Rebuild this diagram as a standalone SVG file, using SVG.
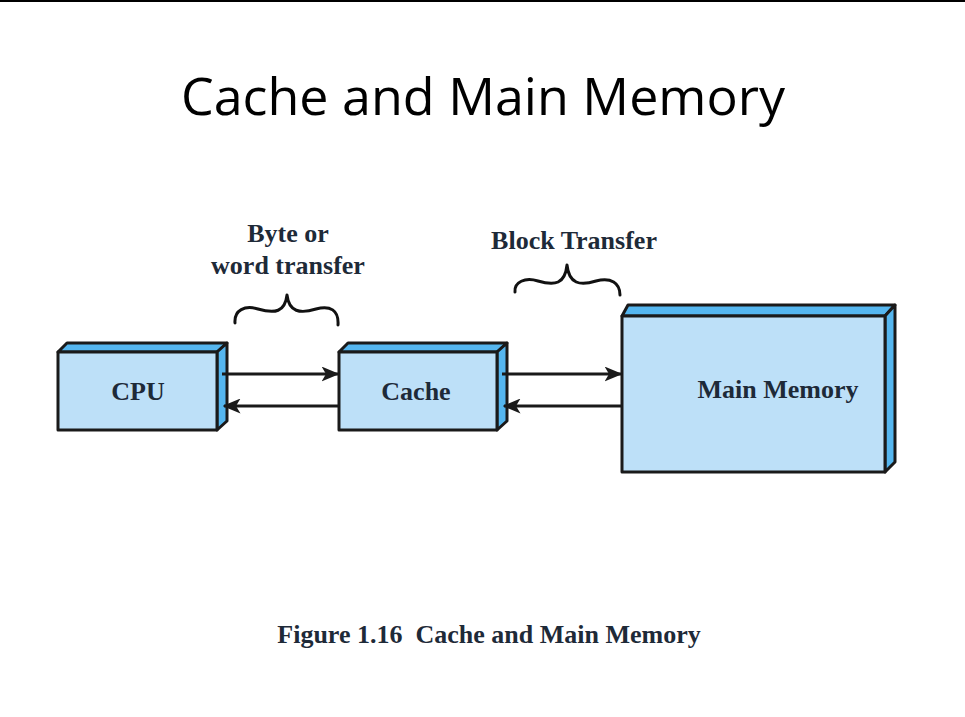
<svg xmlns="http://www.w3.org/2000/svg" width="965" height="717" viewBox="0 0 965 717">
<defs>
<style>
.front{fill:#bde0f8;stroke:#1a1a1a;stroke-width:3;stroke-linejoin:round}
.face{fill:#55b6ef;stroke:#1a1a1a;stroke-width:3;stroke-linejoin:round}
.lbl{font-family:"Liberation Serif","Times New Roman",serif;font-weight:bold;fill:#1e2a38;text-anchor:middle}
.conn{stroke:#1a1a1a;stroke-width:3;fill:none}
.brace{stroke:#111;stroke-width:3;fill:none;stroke-linecap:round;stroke-linejoin:round}
</style>
<marker id="ah" viewBox="0 0 12 10" refX="11" refY="5" markerWidth="6" markerHeight="5" markerUnits="strokeWidth" orient="auto">
<path d="M0,0 L12,5 L0,10 L3,5 Z" fill="#1a1a1a"/>
</marker>
</defs>
<rect x="0" y="0" width="965" height="717" fill="#ffffff"/>
<rect x="0" y="0" width="965" height="2" fill="#000"/>
<text x="483" y="115" font-family="Open Sans, Liberation Sans, sans-serif" font-size="52" fill="#000" text-anchor="middle">Cache and Main Memory</text>

<g id="cpu">
<path class="face" d="M58,352 L67,343 L227,343 L217,352 Z"/>
<path class="face" d="M217,352 L227,343 L227,421 L217,430 Z"/>
<rect class="front" x="58" y="352" width="159" height="78"/>
<text class="lbl" x="138" y="400" font-size="26">CPU</text>
</g>

<g id="cache">
<path class="face" d="M339,352 L348,343 L507,343 L497,352 Z"/>
<path class="face" d="M497,352 L507,343 L507,421 L497,430 Z"/>
<rect class="front" x="339" y="352" width="158" height="78"/>
<text class="lbl" x="416" y="400" font-size="26">Cache</text>
</g>

<g id="main-memory">
<path class="face" d="M622,316 L628,305 L895,305 L885,316 Z"/>
<path class="face" d="M885,316 L895,305 L895,462 L885,472 Z"/>
<rect class="front" x="622" y="316" width="263" height="156"/>
<text class="lbl" x="778" y="398" font-size="26">Main Memory</text>
</g>

<g id="connectors">
<line class="conn" x1="222" y1="374" x2="338" y2="374" marker-end="url(#ah)"/>
<line class="conn" x1="339" y1="406" x2="224" y2="406" marker-end="url(#ah)"/>
<line class="conn" x1="502" y1="374" x2="621" y2="374" marker-end="url(#ah)"/>
<line class="conn" x1="622" y1="406" x2="504" y2="406" marker-end="url(#ah)"/>
</g>

<g id="byte-label">
<text class="lbl" x="288" y="242" font-size="26">Byte or</text>
<text class="lbl" x="288" y="274" font-size="26">word transfer</text>
<path class="brace" d="M235,323 C234,310 245,305 258,309 C275,314 285,312 287,295 C289,312 300,314 316,309 C330,305 339,310 338,325"/>
</g>

<g id="block-label">
<text class="lbl" x="574" y="249" font-size="26">Block Transfer</text>
<path class="brace" d="M515,292 C514,282 525,277 538,281 C555,286 565,284 567,265 C569,284 580,286 596,281 C611,277 620,283 620,295"/>
</g>

<text class="lbl" x="489" y="643" font-size="26" xml:space="preserve" style="white-space:pre">Figure 1.16  Cache and Main Memory</text>
</svg>
